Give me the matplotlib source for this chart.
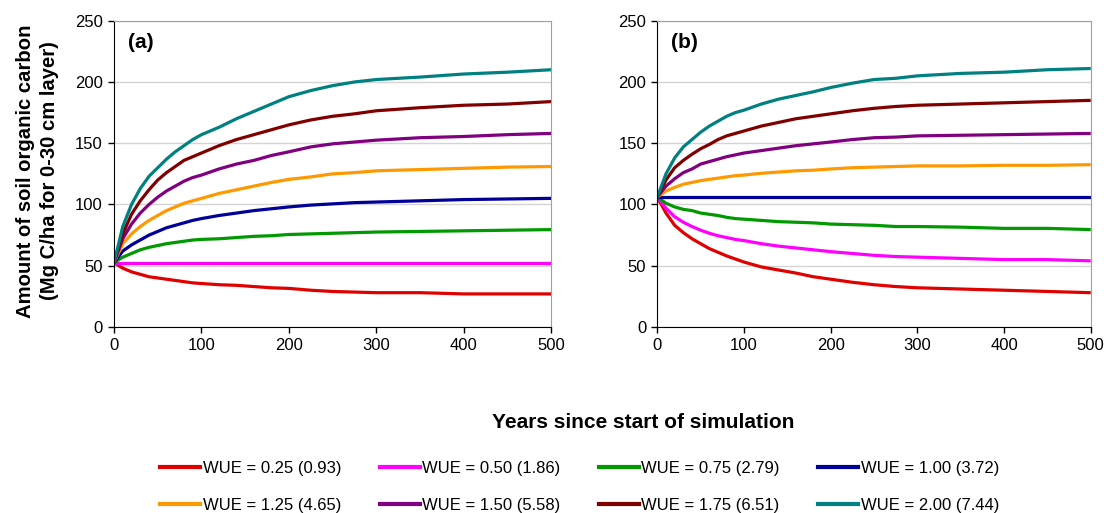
import matplotlib

matplotlib.use("Agg")

import matplotlib.pyplot as plt
from matplotlib.lines import Line2D

plt.rcParams["font.family"] = ["Liberation Sans", "DejaVu Sans"]

years = [0, 10, 20, 30, 40, 50, 60, 70, 80, 90, 100, 120, 140, 160, 180,
         200, 225, 250, 275, 300, 350, 400, 450, 500]

wue_labels = [
    "WUE = 0.25 (0.93)", "WUE = 0.50 (1.86)", "WUE = 0.75 (2.79)",
    "WUE = 1.00 (3.72)", "WUE = 1.25 (4.65)", "WUE = 1.50 (5.58)",
    "WUE = 1.75 (6.51)", "WUE = 2.00 (7.44)",
]
colors = ["#E00000", "#FF00FF", "#009900", "#000099",
          "#FF9900", "#800080", "#800000", "#008080"]

# panel (a): start at ~52.5 Mg C/ha
soc_a = [
    [52.5, 48, 45, 43, 41, 40, 39, 38, 37, 36, 35.5, 34.5, 34, 33, 32,
     31.5, 30, 29, 28.5, 28, 28, 27, 27, 27],
    [52.5] * 24,
    [52.5, 57, 60, 63, 65, 66.5, 68, 69, 70, 71, 71.5, 72, 73, 74, 74.5,
     75.5, 76, 76.5, 77, 77.5, 78, 78.5, 79, 79.5],
    [52.5, 62, 67, 71, 75, 78, 81, 83, 85, 87, 88.5, 91, 93, 95, 96.5,
     98, 99.5, 100.5, 101.5, 102, 103, 104, 104.5, 105],
    [52.5, 68, 76, 82, 87, 91, 95, 98, 101, 103, 105, 109, 112, 115, 118,
     120.5, 122.5, 125, 126, 127.5, 128.5, 129.5, 130.5, 131],
    [52.5, 72, 84, 93, 100, 106, 111, 115, 119, 122, 124, 129, 133, 136,
     140, 143, 147, 149.5, 151, 152.5, 154.5, 155.5, 157, 158],
    [52.5, 76, 92, 103, 112, 120, 126, 131, 136, 139, 142, 148, 153, 157,
     161, 165, 169, 172, 174, 176.5, 179, 181, 182, 184],
    [52.5, 82, 100, 113, 123, 130, 137, 143, 148, 153, 157, 163, 170, 176,
     182, 188, 193, 197, 200, 202, 204, 206.5, 208, 210],
]

# panel (b): start at ~106 Mg C/ha
soc_b = [
    [106, 93, 83, 77, 72, 68, 64, 61, 58, 55.5, 53, 49, 46.5, 44, 41,
     39, 36.5, 34.5, 33, 32, 31, 30, 29, 28],
    [106, 97, 90, 85.5, 82, 79, 76.5, 74.5, 73, 71.5, 70.5, 68, 66, 64.5,
     63, 61.5, 60, 58.5, 57.5, 57, 56, 55, 55, 54],
    [106, 101, 98, 96, 95, 93, 92, 91, 89.5, 88.5, 88, 87, 86, 85.5, 85,
     84, 83.5, 83, 82, 82, 81.5, 80.5, 80.5, 79.5],
    [106] * 24,
    [106, 111, 114, 116.5, 118, 119.5, 120.5, 121.5, 122.5, 123.5, 124,
     125.5, 126.5, 127.5, 128, 129, 130, 130.5, 131, 131.5, 131.5, 132,
     132, 132.5],
    [106, 115, 121, 126, 129, 133, 135, 137, 139, 140.5, 142, 144, 146,
     148, 149.5, 151, 153, 154.5, 155, 156, 156.5, 157, 157.5, 158],
    [106, 120, 130, 136, 141, 145.5, 149, 153, 156, 158, 160, 164, 167,
     170, 172, 174, 176.5, 178.5, 180, 181, 182, 183, 184, 185],
    [106, 125, 138, 147, 153, 159, 164, 168, 172, 175, 177, 182, 186,
     189, 192, 195.5, 199, 202, 203, 205, 207, 208, 210, 211],
]

fig = plt.figure(figsize=(11.04, 5.13), dpi=100)
ax_a = fig.add_axes([0.1033, 0.3626, 0.396, 0.597])
ax_b = fig.add_axes([0.5954, 0.3626, 0.3926, 0.597])

for ax, series, tag in [(ax_a, soc_a, "(a)"), (ax_b, soc_b, "(b)")]:
    ax.set_axisbelow(True)
    ax.grid(axis="y", color="#d4d4d4", lw=1)
    for ys, col in zip(series, colors):
        ax.plot(years, ys, color=col, lw=2.3, solid_capstyle="butt")
    ax.set_xlim(0, 500)
    ax.set_ylim(0, 250)
    ax.set_xticks(range(0, 501, 100))
    ax.set_yticks(range(0, 251, 50))
    ax.tick_params(labelsize=12, length=4, width=1, direction="out",
                   color="black", pad=4)
    for side in ("top", "right"):
        ax.spines[side].set_color("#a0a0a0")
    for side in ("left", "bottom"):
        ax.spines[side].set_color("black")
    ax.text(0.032, 0.93, tag, transform=ax.transAxes, fontsize=15,
            fontweight="bold", va="center", ha="left")

fig.text(0.034, 0.667, "Amount of soil organic carbon\n(Mg C/ha for 0-30 cm layer)",
         rotation=90, ha="center", va="center", fontsize=14.6,
         fontweight="bold", linespacing=1.3)
fig.text(0.583, 0.177, "Years since start of simulation", ha="center",
         va="center", fontsize=15, fontweight="bold")

# legend fills column by column, so reorder to read row by row
order = [0, 4, 1, 5, 2, 6, 3, 7]
handles = [Line2D([], [], color=colors[i], lw=3) for i in order]
labels = [wue_labels[i] for i in order]
fig.legend(handles, labels, ncol=4, loc="center",
           bbox_to_anchor=(0.525, 0.0505), frameon=False, fontsize=12,
           handlelength=2.4, handletextpad=0.15, columnspacing=2.3,
           labelspacing=1.3)

fig.savefig("out.png", dpi=100)
